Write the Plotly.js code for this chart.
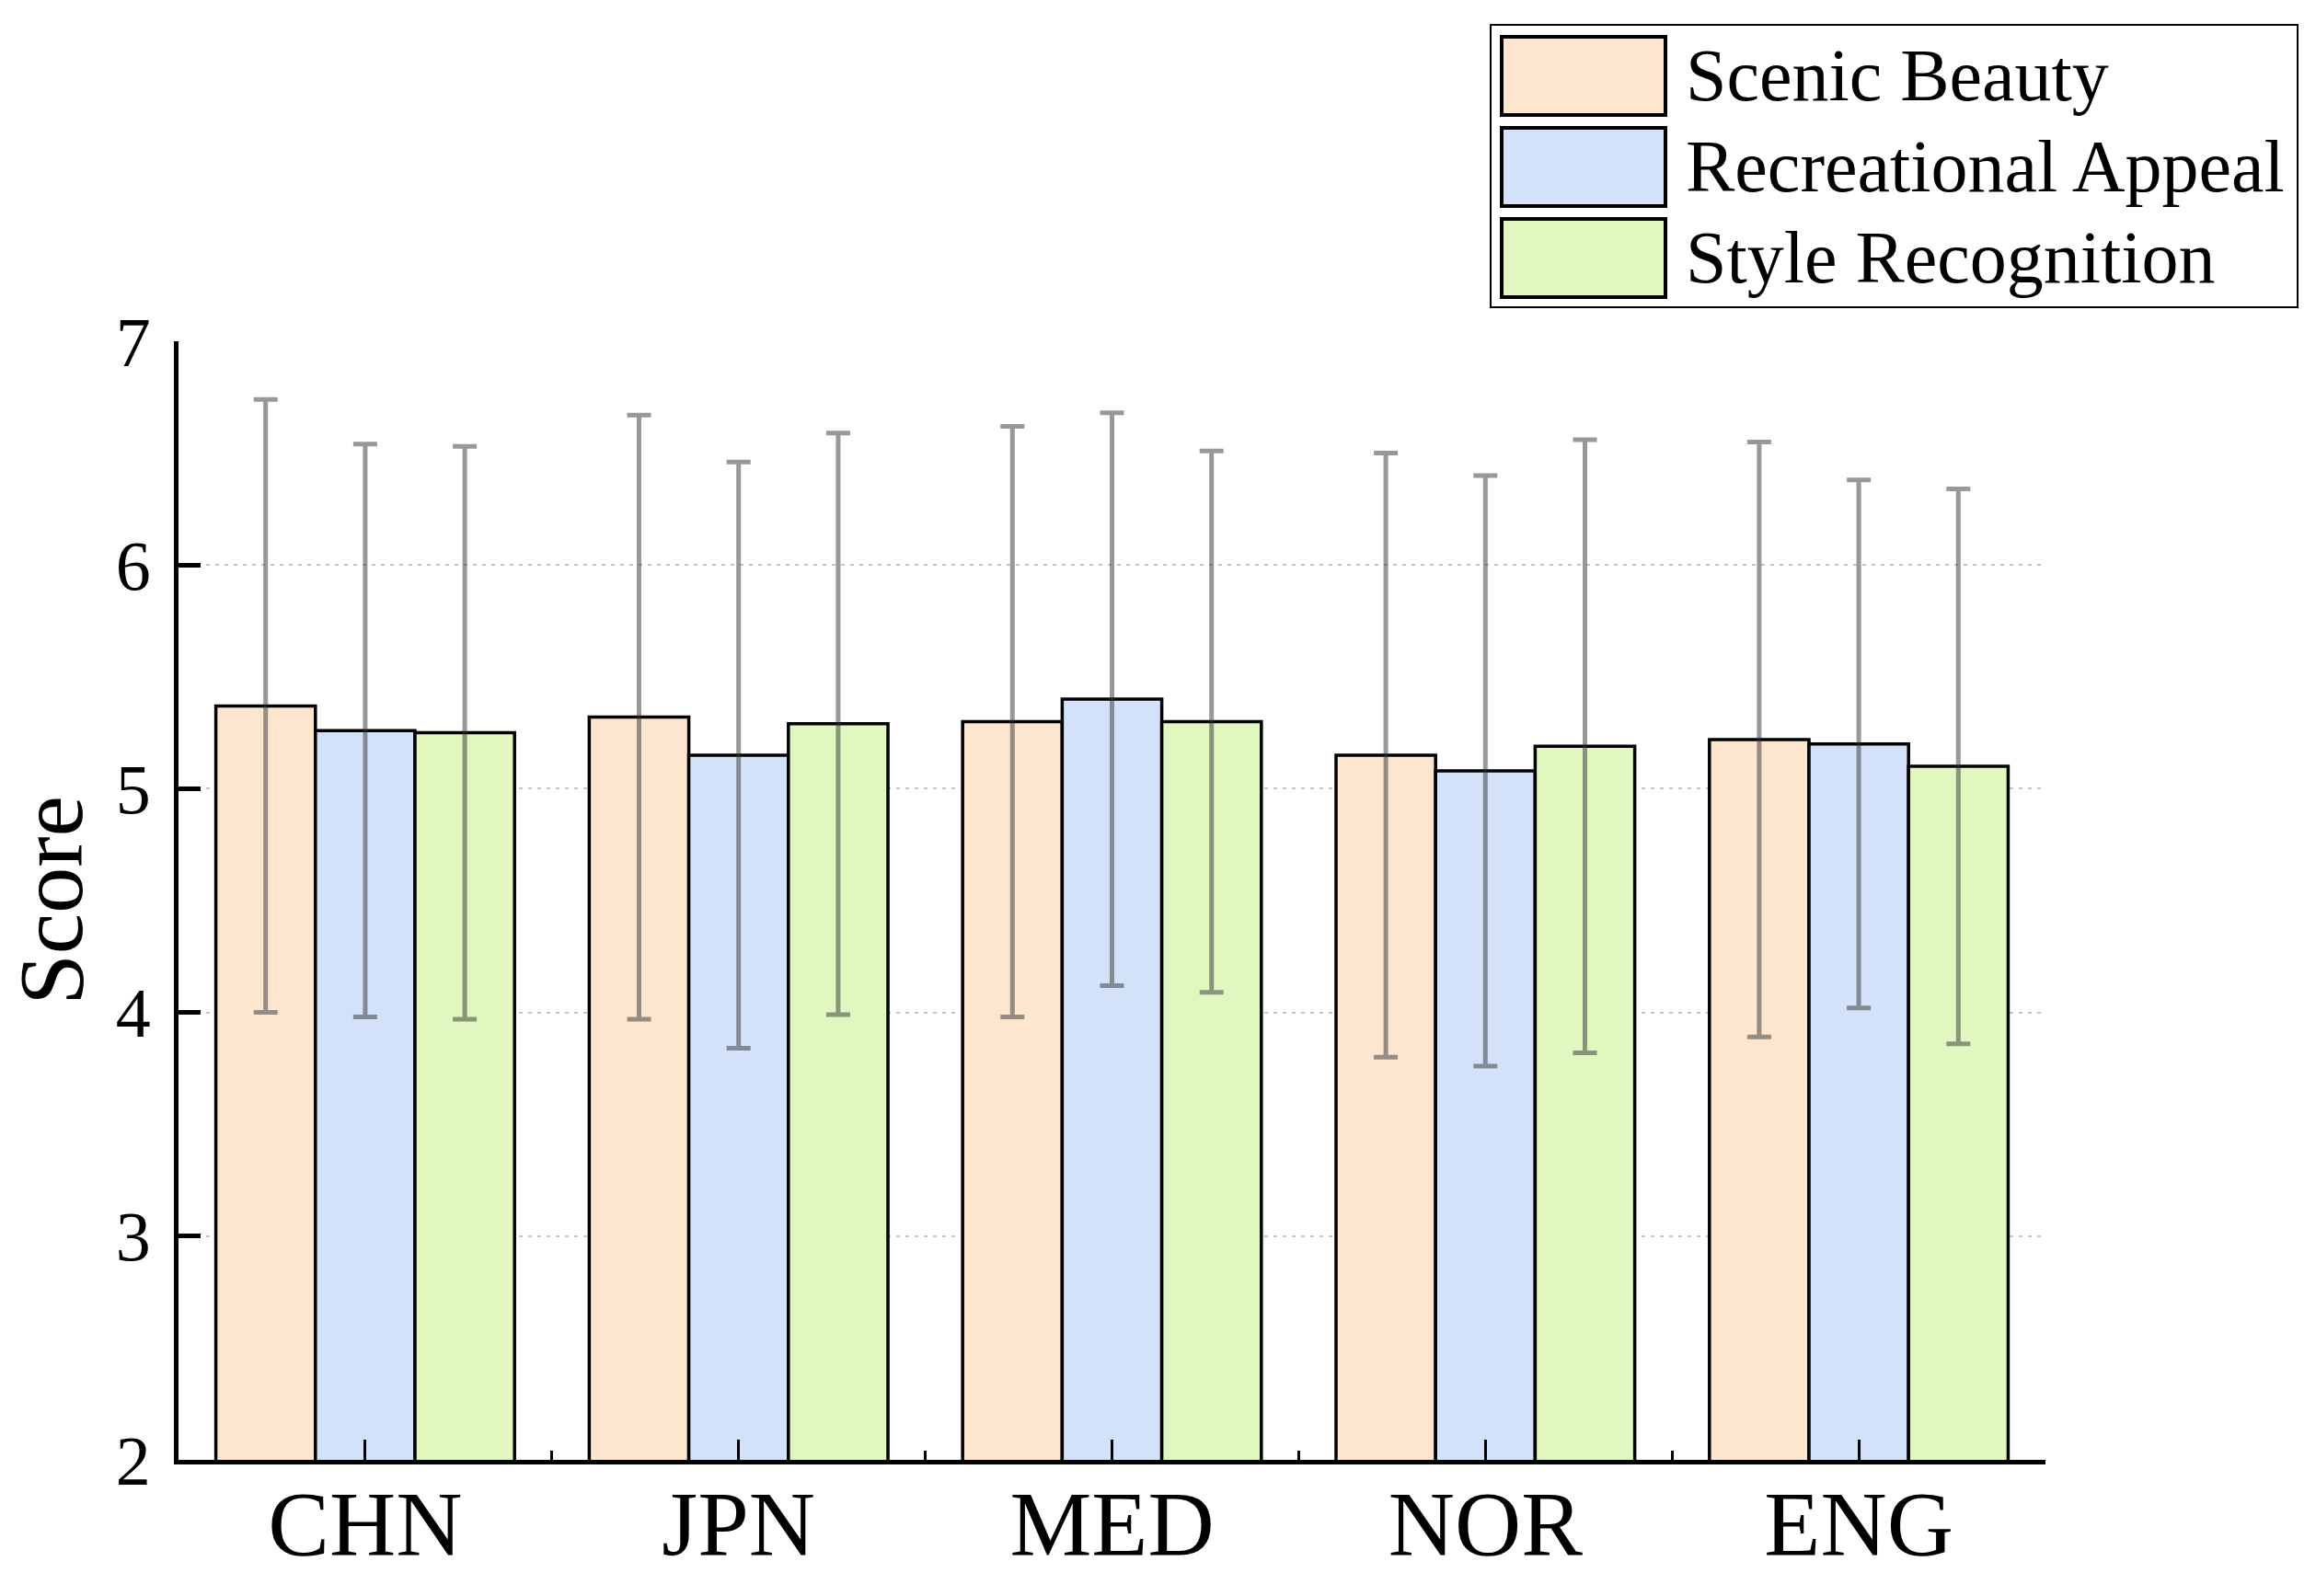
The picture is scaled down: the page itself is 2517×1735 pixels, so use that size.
<!DOCTYPE html>
<html>
<head>
<meta charset="utf-8">
<script src="https://cdn.plot.ly/plotly-3.0.1.min.js"></script>
<style>
  html, body { margin: 0; padding: 0; background: #fff; }
  #chart { width: 2517px; height: 1735px; }
</style>
</head>
<body>
<div id="chart"></div>
<script>
// data
let categories = ['CHN', 'JPN', 'MED', 'NOR', 'ENG'];
let seriesNames = ['Scenic Beauty', 'Recreational Appeal', 'Style Recognition'];

let scenicMean = [5.37, 5.32, 5.30, 5.15, 5.22];
let scenicErr = [1.37, 1.35, 1.32, 1.35, 1.33];

let recreationalMean = [5.26, 5.15, 5.40, 5.08, 5.20];
let recreationalErr = [1.28, 1.31, 1.28, 1.32, 1.18];

let styleMean = [5.25, 5.29, 5.30, 5.19, 5.10];
let styleErr = [1.28, 1.30, 1.21, 1.37, 1.24];

let yTicks = [2, 3, 4, 5, 6, 7];

let colors = ['#FDE6D0', '#D3E2F9', '#E0F8C0'];

// plot box in page pixels
let W = 2517, H = 1735;
let L = 194, R = 2223, T = 371, B = 1587;
let plotW = R - L, plotH = B - T;

function px(x) { return (x - L) / plotW; }
function py(y) { return (B - y) / plotH; }

let means = [scenicMean, recreationalMean, styleMean];
let errs = [scenicErr, recreationalErr, styleErr];
let xIdx = categories.map(function(c, i) { return i; });
let boundaries = [];
for (let i = 0; i <= categories.length; i++) boundaries.push(i - 0.5);

let traces = [];
for (let s = 0; s < seriesNames.length; s++) {
    traces.push({
        type: 'bar',
        name: seriesNames[s],
        x: xIdx,
        y: means[s],
        base: 0,
        marker: { color: colors[s], line: { color: '#000', width: 3.5 } },
        error_y: {
            type: 'data',
            array: errs[s],
            visible: true,
            color: 'rgba(50,50,50,0.5)',
            thickness: 5,
            width: 13
        },
        showlegend: false,
        hoverinfo: 'skip'
    });
}

// hand-made legend with large swatches
let shapes = [{
    type: 'rect', xref: 'paper', yref: 'paper',
    x0: px(1620), x1: px(2497), y0: py(334), y1: py(27),
    line: { color: '#000', width: 2 }, fillcolor: '#fff'
}];
let annotations = [];
let rowTop = [40, 139, 238];
for (let s = 0; s < seriesNames.length; s++) {
    shapes.push({
        type: 'rect', xref: 'paper', yref: 'paper',
        x0: px(1632), x1: px(1810), y0: py(rowTop[s] + 85), y1: py(rowTop[s]),
        line: { color: '#000', width: 4 }, fillcolor: colors[s]
    });
    annotations.push({
        xref: 'paper', yref: 'paper',
        x: px(1830), y: py(rowTop[s] + 42),
        xanchor: 'left', yanchor: 'middle',
        text: seriesNames[s], showarrow: false,
        font: { family: 'Liberation Serif, Times New Roman, serif', size: 80, color: '#000' }
    });
}

let layout = {
    width: W,
    height: H,
    margin: { l: L, r: W - R, t: T, b: H - B, pad: 0 },
    paper_bgcolor: '#fff',
    plot_bgcolor: '#fff',
    barmode: 'group',
    bargap: 0.2,
    bargroupgap: 0,
    font: { family: 'Liberation Serif, Times New Roman, serif', color: '#000' },
    xaxis: {
        type: 'linear',
        range: [-0.5, categories.length - 0.5],
        tickmode: 'array',
        tickvals: xIdx,
        ticktext: categories,
        ticks: 'inside',
        ticklen: 22,
        tickwidth: 3,
        tickcolor: '#000',
        tickfont: { size: 100 },
        ticklabelstandoff: -22,
        showline: true,
        linecolor: '#000',
        linewidth: 5,
        mirror: false,
        showgrid: false,
        zeroline: false,
        minor: {
            tickmode: 'array',
            tickvals: boundaries,
            ticks: 'inside',
            ticklen: 10,
            tickwidth: 3,
            tickcolor: '#000',
            showgrid: false
        }
    },
    yaxis: {
        range: [2, 7],
        tickmode: 'array',
        tickvals: yTicks,
        ticktext: yTicks.map(String),
        ticks: 'inside',
        ticklen: 24,
        tickwidth: 5,
        tickcolor: '#000',
        tickfont: { size: 76 },
        ticklabelstandoff: 10,
        showline: true,
        linecolor: '#000',
        linewidth: 5,
        mirror: false,
        showgrid: true,
        gridcolor: '#c4c4c4',
        gridwidth: 2,
        griddash: '4px,6px',
        zeroline: false,
        title: { text: 'Score', font: { size: 100 }, standoff: 30 }
    },
    shapes: shapes,
    annotations: annotations
};

Plotly.newPlot('chart', traces, layout, { staticPlot: true });
</script>
</body>
</html>
